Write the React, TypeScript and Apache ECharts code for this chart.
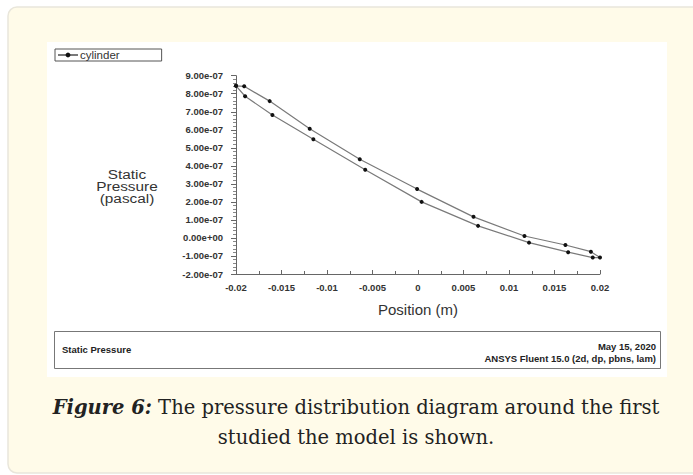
import React, { useEffect, useRef } from "react";
import * as echarts from "echarts";

// Upper surface (leading edge -> trailing edge)
const upperX = [-0.02, -0.0191, -0.0163, -0.0119, -0.0064, -0.0001, 0.0061, 0.0117, 0.0162, 0.019, 0.02];
const upperY = [8.44e-7, 8.41e-7, 7.59e-7, 6.06e-7, 4.37e-7, 2.71e-7, 1.17e-7, 0.11e-7, -0.39e-7, -0.76e-7, -1.09e-7];
// Lower surface (trailing edge -> leading edge)
const lowerX = [0.0192, 0.0165, 0.0122, 0.0066, 0.0004, -0.0058, -0.0115, -0.016, -0.019, -0.02];
const lowerY = [-1.09e-7, -0.79e-7, -0.26e-7, 0.67e-7, 2.0e-7, 3.78e-7, 5.48e-7, 6.82e-7, 7.86e-7, 8.44e-7];

const seriesName = "cylinder";
const xAxisName = "Position (m)";
const yAxisName = "Static\nPressure\n(pascal)";
const footerLeft = "Static Pressure";
const footerDate = "May 15, 2020";
const footerSoft = "ANSYS Fluent 15.0 (2d, dp, pbns, lam)";

function sci(v: number): string {
  if (Math.abs(v) < 1e-15) return "0.00e+00";
  const [m, e] = v.toExponential(2).split("e");
  const n = parseInt(e, 10);
  return m + "e" + (n < 0 ? "-" : "+") + String(Math.abs(n)).padStart(2, "0");
}

function fmtX(v: number): string {
  return String(parseFloat(v.toFixed(4)));
}

export default function App() {
  const ref = useRef<HTMLDivElement>(null);
  useEffect(() => {
    if (!ref.current) return;
    const chart = echarts.init(ref.current, undefined, { renderer: "svg" });
    const data: number[][] = [];
    upperX.forEach((x, i) => data.push([x, upperY[i]]));
    lowerX.forEach((x, i) => data.push([x, lowerY[i]]));
    const sans = "Liberation Sans, Arial, sans-serif";
    chart.setOption({
      animation: false,
      backgroundColor: "#ffffff",
      graphic: [
        {
          type: "rect",
          z: -10,
          shape: { x: 8, y: 7, width: 700, height: 466, r: 9 },
          style: { fill: "#fffbe9", stroke: "#e9e6db", lineWidth: 1.5 },
          silent: true,
        },
        {
          type: "rect",
          z: -9,
          shape: { x: 47, y: 42, width: 620, height: 335 },
          style: { fill: "#ffffff" },
          silent: true,
        },
        {
          type: "rect",
          shape: { x: 54.5, y: 331.5, width: 606, height: 37 },
          style: { fill: "#ffffff", stroke: "#777777", lineWidth: 1 },
        },
        {
          type: "text",
          x: 62,
          y: 349,
          style: { text: footerLeft, font: "bold 9.5px " + sans, fill: "#222", textVerticalAlign: "middle" },
        },
        {
          type: "text",
          x: 656,
          y: 346,
          style: { text: footerDate, font: "bold 9.5px " + sans, fill: "#222", textAlign: "right", textVerticalAlign: "middle" },
        },
        {
          type: "text",
          x: 656,
          y: 358,
          style: { text: footerSoft, font: "bold 9.5px " + sans, fill: "#222", textAlign: "right", textVerticalAlign: "middle" },
        },
        {
          type: "text",
          x: 127,
          y: 187,
          scaleX: 1.28,
          style: {
            text: yAxisName,
            font: "12px " + sans,
            fill: "#333",
            textAlign: "center",
            textVerticalAlign: "middle",
            lineHeight: 12,
          },
        },
        {
          type: "text",
          x: 356,
          y: 422,
          style: {
            text: "{b|Figure 6:} The pressure distribution diagram around the first\nstudied the model is shown.",
            font: "19.5px DejaVu Serif, serif",
            fill: "#222",
            textAlign: "center",
            textVerticalAlign: "middle",
            lineHeight: 30,
            rich: {
              b: { fontStyle: "italic", fontWeight: "bold", fontSize: 19.5, fontFamily: "DejaVu Serif, serif", fill: "#222" },
            },
          },
        },
      ],
      legend: {
        left: 55,
        top: 49,
        data: [seriesName],
        itemWidth: 20,
        itemHeight: 6,
        itemGap: 0,
        padding: [0, 42, 0, 2],
        borderColor: "#555",
        borderWidth: 1,
        textStyle: { fontSize: 11.5, fontFamily: sans, color: "#333", lineHeight: 10, padding: [0, 0, 0, -3] },
      },
      grid: { left: 236, right: 93, top: 75.7, bottom: 201, containLabel: false },
      xAxis: {
        type: "value",
        min: -0.02,
        max: 0.02,
        interval: 0.005,
        name: xAxisName,
        nameLocation: "middle",
        nameGap: 28,
        nameTextStyle: { fontSize: 15, fontFamily: sans, color: "#333" },
        axisLine: { show: true, onZero: false, lineStyle: { color: "#666", width: 1 } },
        axisTick: { show: true, inside: true, length: 4, lineStyle: { color: "#666" } },
        minorTick: { show: true, splitNumber: 2, length: 3, lineStyle: { color: "#666" } },
        splitLine: { show: false },
        axisLabel: { formatter: fmtX, fontSize: 9.5, fontWeight: "bold", fontFamily: sans, color: "#333", margin: 8 },
      },
      yAxis: {
        type: "value",
        min: -2e-7,
        max: 9e-7,
        interval: 1e-7,
        axisLine: { show: true, onZero: false, lineStyle: { color: "#666", width: 1 } },
        axisTick: { show: true, inside: false, length: 5, lineStyle: { color: "#666" } },
        minorTick: { show: true, splitNumber: 5, length: 3, lineStyle: { color: "#888" } },
        splitLine: { show: false },
        axisLabel: { formatter: sci, fontSize: 9.5, fontWeight: "bold", fontFamily: sans, color: "#333", margin: 13 },
      },
      series: [
        {
          name: seriesName,
          type: "line",
          data,
          symbol: "circle",
          symbolSize: 4,
          itemStyle: { color: "#111" },
          lineStyle: { color: "#7a7a7a", width: 1.2 },
          showSymbol: true,
        },
      ],
    });
    return () => chart.dispose();
  }, []);
  return (
    <div
      ref={ref}
      style={{ position: "absolute", left: 0, top: 0, width: 693, height: 475 }}
    />
  );
}
